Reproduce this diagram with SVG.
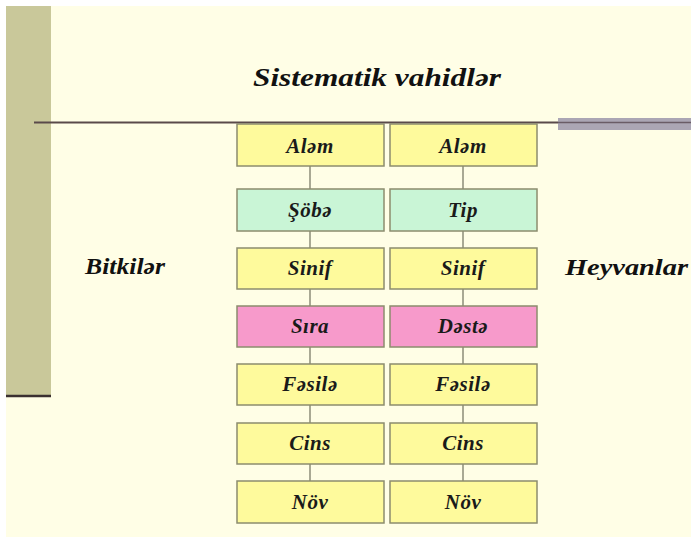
<svg xmlns="http://www.w3.org/2000/svg" width="691" height="537" viewBox="0 0 691 537">
<style>
.bg{fill:#FFFEE6}
.box{stroke:#8C8C6E;stroke-width:1.5}
.y{fill:#FEFA9C}
.g{fill:#C9F5D6}
.p{fill:#F79ACB}
.lbl{font-family:"Liberation Serif","DejaVu Serif",serif;font-style:italic;font-weight:bold;font-size:21px;letter-spacing:0.5px;fill:#1a1a1a;text-anchor:middle}
.big{font-family:"Liberation Serif","DejaVu Serif",serif;font-style:italic;font-weight:bold;fill:#111}
.conn line{stroke:#8C8C78;stroke-width:1.5}
</style>
<rect width="691" height="537" fill="#FFFFFF"/>
<rect class="bg" x="6" y="6" width="685" height="531"/>
<rect x="6" y="6" width="45" height="389" fill="#C9C89A"/>
<line x1="6" y1="396" x2="51" y2="396" stroke="#3a3030" stroke-width="2.5"/>
<line x1="34" y1="122.5" x2="560" y2="122.5" stroke="#5a4a4a" stroke-width="2"/>
<rect x="558" y="118" width="133" height="12" fill="#ABA6B4"/>
<line x1="558" y1="122.5" x2="691" y2="122.5" stroke="#6a5c66" stroke-width="1.5"/>
<text class="big" x="377" y="86" font-size="26" text-anchor="middle" textLength="248" lengthAdjust="spacingAndGlyphs">Sistematik vahidlər</text>
<text class="big" x="85" y="274" font-size="23" textLength="80" lengthAdjust="spacingAndGlyphs">Bitkilər</text>
<text class="big" x="565" y="275" font-size="23" textLength="123" lengthAdjust="spacingAndGlyphs">Heyvanlar</text>
<g id="connectors" class="conn">
<line x1="310" y1="166" x2="310" y2="189"/>
<line x1="310" y1="231" x2="310" y2="248"/>
<line x1="310" y1="289" x2="310" y2="306"/>
<line x1="310" y1="347" x2="310" y2="364"/>
<line x1="310" y1="405" x2="310" y2="423"/>
<line x1="310" y1="464" x2="310" y2="481"/>
<line x1="463" y1="166" x2="463" y2="189"/>
<line x1="463" y1="231" x2="463" y2="248"/>
<line x1="463" y1="289" x2="463" y2="306"/>
<line x1="463" y1="347" x2="463" y2="364"/>
<line x1="463" y1="405" x2="463" y2="423"/>
<line x1="463" y1="464" x2="463" y2="481"/>
</g>
<g id="b-alem"><rect class="box y" x="237" y="124" width="147" height="42"/><text class="lbl" x="310" y="153">Aləm</text></g>
<g id="b-sobe"><rect class="box g" x="237" y="189" width="147" height="42"/><text class="lbl" x="310" y="217">Şöbə</text></g>
<g id="b-sinif"><rect class="box y" x="237" y="248" width="147" height="41"/><text class="lbl" x="310" y="275">Sinif</text></g>
<g id="b-sira"><rect class="box p" x="237" y="306" width="147" height="41"/><text class="lbl" x="310" y="333">Sıra</text></g>
<g id="b-fasile"><rect class="box y" x="237" y="364" width="147" height="41"/><text class="lbl" x="310" y="391">Fəsilə</text></g>
<g id="b-cins"><rect class="box y" x="237" y="423" width="147" height="41"/><text class="lbl" x="310" y="450">Cins</text></g>
<g id="b-nov"><rect class="box y" x="237" y="481" width="147" height="42"/><text class="lbl" x="310" y="509">Növ</text></g>
<g id="h-alem"><rect class="box y" x="390" y="124" width="147" height="42"/><text class="lbl" x="463" y="153">Aləm</text></g>
<g id="h-tip"><rect class="box g" x="390" y="189" width="147" height="42"/><text class="lbl" x="463" y="217">Tip</text></g>
<g id="h-sinif"><rect class="box y" x="390" y="248" width="147" height="41"/><text class="lbl" x="463" y="275">Sinif</text></g>
<g id="h-deste"><rect class="box p" x="390" y="306" width="147" height="41"/><text class="lbl" x="463" y="333">Dəstə</text></g>
<g id="h-fasile"><rect class="box y" x="390" y="364" width="147" height="41"/><text class="lbl" x="463" y="391">Fəsilə</text></g>
<g id="h-cins"><rect class="box y" x="390" y="423" width="147" height="41"/><text class="lbl" x="463" y="450">Cins</text></g>
<g id="h-nov"><rect class="box y" x="390" y="481" width="147" height="42"/><text class="lbl" x="463" y="509">Növ</text></g>
</svg>
